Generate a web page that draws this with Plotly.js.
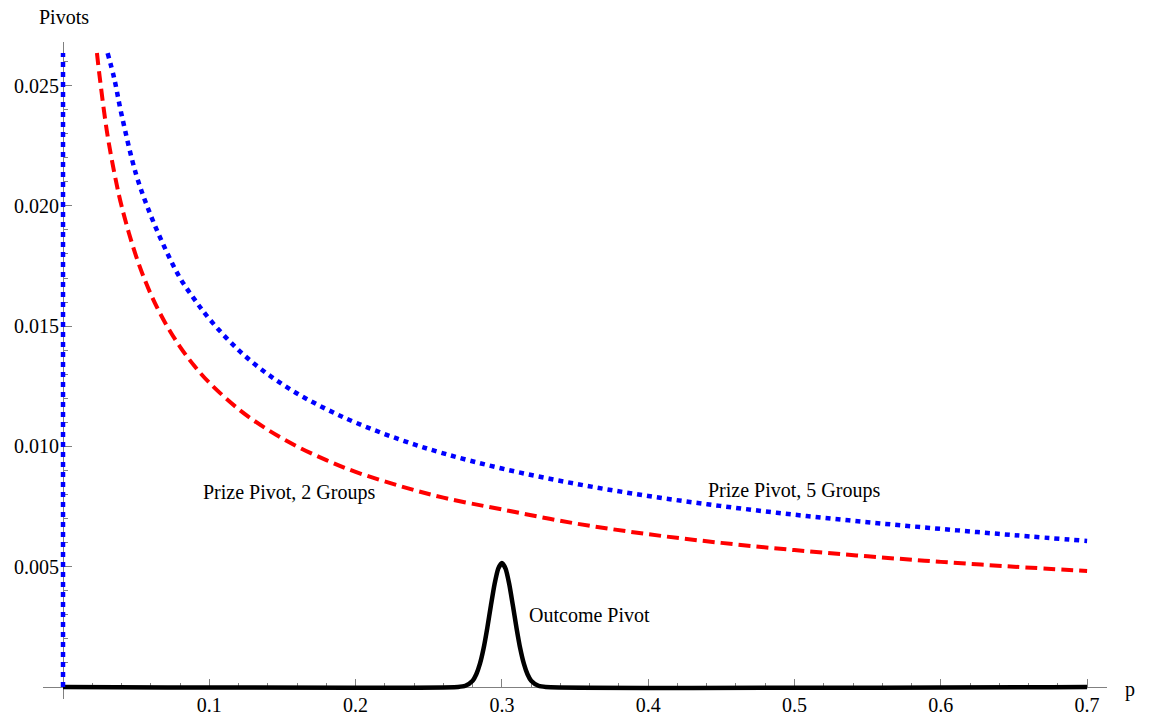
<!DOCTYPE html>
<html>
<head>
<meta charset="utf-8">
<script src="https://cdn.plot.ly/plotly-3.0.1.min.js"></script>
<style>html,body{margin:0;padding:0;background:#fff;}#chart{width:1153px;height:721px;}</style>
</head>
<body>
<div id="chart"></div>
<script>
// Prize Pivot, 2 Groups (red dashed)
const redP = [0.0232, 0.025, 0.03, 0.035, 0.04, 0.05, 0.06, 0.07, 0.08, 0.09, 0.10, 0.12, 0.14, 0.16, 0.18, 0.20, 0.23, 0.26, 0.30, 0.35, 0.40, 0.45, 0.50, 0.55, 0.60, 0.65, 0.70];
const redV = [0.02635, 0.0254, 0.0231, 0.0214, 0.0200, 0.0179, 0.01633, 0.01512, 0.01414, 0.01333, 0.01265, 0.01155, 0.01069, 0.0100, 0.00943, 0.00894, 0.00836, 0.00787, 0.00738, 0.00680, 0.00635, 0.00599, 0.00569, 0.00543, 0.00520, 0.00500, 0.00482];

// Prize Pivot, 5 Groups (blue dotted)
const blueP = [0.0305, 0.035, 0.04, 0.05, 0.06, 0.07, 0.08, 0.09, 0.10, 0.12, 0.14, 0.16, 0.18, 0.20, 0.23, 0.26, 0.30, 0.35, 0.40, 0.45, 0.50, 0.55, 0.60, 0.65, 0.70];
const blueV = [0.02635, 0.0253, 0.0238, 0.0213, 0.0196, 0.0182, 0.0170, 0.0161, 0.0153, 0.0140, 0.0130, 0.0122, 0.01155, 0.01099, 0.01029, 0.00971, 0.00908, 0.00845, 0.00794, 0.00752, 0.00716, 0.00685, 0.00657, 0.00631, 0.00607];
// vertical blue piece drawn along p = 0
const blueEdgeP = [0, 0];
const blueEdgeV = [0, 0.02635];

// Outcome Pivot (black solid)
const blackP = [0, 0.27, 0.275, 0.28, 0.2825, 0.285, 0.2875, 0.29, 0.2925, 0.295, 0.2975, 0.30, 0.3025, 0.305, 0.3075, 0.31, 0.3125, 0.315, 0.3175, 0.32, 0.325, 0.33, 0.70];
const blackV = [0, 0, 0.00005, 0.00026, 0.00053, 0.00097, 0.00161, 0.00245, 0.00339, 0.00428, 0.00492, 0.00515, 0.00492, 0.00428, 0.00339, 0.00245, 0.00161, 0.00097, 0.00053, 0.00026, 0.00005, 0, 0];

const xTicks = [0.1, 0.2, 0.3, 0.4, 0.5, 0.6, 0.7];
const xTickText = ["0.1", "0.2", "0.3", "0.4", "0.5", "0.6", "0.7"];
const yTicks = [0.005, 0.010, 0.015, 0.020, 0.025];
const yTickText = ["0.005", "0.010", "0.015", "0.020", "0.025"];

const labels = [
  {text: "Prize Pivot, 2 Groups", x: 0.1545, y: 0.0081},
  {text: "Prize Pivot, 5 Groups", x: 0.4997, y: 0.00815},
  {text: "Outcome Pivot", x: 0.360, y: 0.00299}
];

const FONT = '"Liberation Serif", "Times New Roman", serif';
const xRange = [-0.01367, 0.7136];
const yRange = [-0.0005, 0.02681];
const axisGray = '#808080';

const traces = [
  {x: blackP, y: blackV, type: 'scatter', mode: 'lines', line: {color: '#000000', width: 4.5, shape: 'spline', smoothing: 0.6}, hoverinfo: 'skip'},
  {x: redP, y: redV, type: 'scatter', mode: 'lines', line: {color: '#ff0000', width: 4, dash: '12px,6px', shape: 'spline'}, hoverinfo: 'skip'},
  {x: blueP, y: blueV, type: 'scatter', mode: 'lines', line: {color: '#0000ff', width: 4.5, dash: '5px,5px', shape: 'spline'}, hoverinfo: 'skip'},
  {x: blueEdgeP, y: blueEdgeV, type: 'scatter', mode: 'lines', line: {color: '#0000ff', width: 4.5, dash: '5px,5px'}, hoverinfo: 'skip'}
];

const annotations = labels.map(l => ({
  text: l.text, x: l.x, y: l.y, xref: 'x', yref: 'y', showarrow: false,
  xanchor: 'center', yanchor: 'middle',
  font: {family: FONT, size: 20, color: '#000'}
}));
annotations.push({text: 'Pivots', xref: 'paper', yref: 'paper', x: 0.0197, y: 1.038, xanchor: 'center', yanchor: 'middle', showarrow: false, font: {family: FONT, size: 20, color: '#000'}});
annotations.push({text: 'p', xref: 'paper', yref: 'paper', x: 1.0216, y: 0.0137, xanchor: 'center', yanchor: 'middle', showarrow: false, font: {family: FONT, size: 20, color: '#000'}});

const layout = {
  width: 1153, height: 721,
  margin: {l: 43, r: 46, t: 42, b: 22, pad: 0},
  paper_bgcolor: '#fff', plot_bgcolor: '#fff',
  showlegend: false,
  font: {family: FONT, size: 20, color: '#000'},
  xaxis: {
    range: xRange, anchor: 'free', position: 0.0005 / 0.02731, showgrid: false, zeroline: false,
    showline: true, linecolor: axisGray, linewidth: 1, layer: 'below traces',
    tickmode: 'array', tickvals: xTicks, ticktext: xTickText,
    ticks: 'inside', ticklen: 8, tickcolor: axisGray, tickwidth: 1,
    minor: {tickmode: 'linear', tick0: 0, dtick: 0.02, ticks: 'inside', ticklen: 4, tickcolor: axisGray, tickwidth: 1, showgrid: false},
    tickfont: {family: FONT, size: 20, color: '#000'}
  },
  yaxis: {
    range: yRange, anchor: 'free', position: 0.01367 / 0.72727, showgrid: false, zeroline: false,
    showline: true, linecolor: axisGray, linewidth: 1, layer: 'below traces',
    tickmode: 'array', tickvals: yTicks, ticktext: yTickText,
    ticks: 'inside', ticklen: 8, tickcolor: axisGray, tickwidth: 1,
    minor: {tickmode: 'linear', tick0: 0, dtick: 0.001, ticks: 'inside', ticklen: 4, tickcolor: axisGray, tickwidth: 1, showgrid: false},
    tickfont: {family: FONT, size: 20, color: '#000'}
  },
  annotations: annotations
};

Plotly.newPlot('chart', traces, layout, {staticPlot: true, displayModeBar: false});
</script>
</body>
</html>
